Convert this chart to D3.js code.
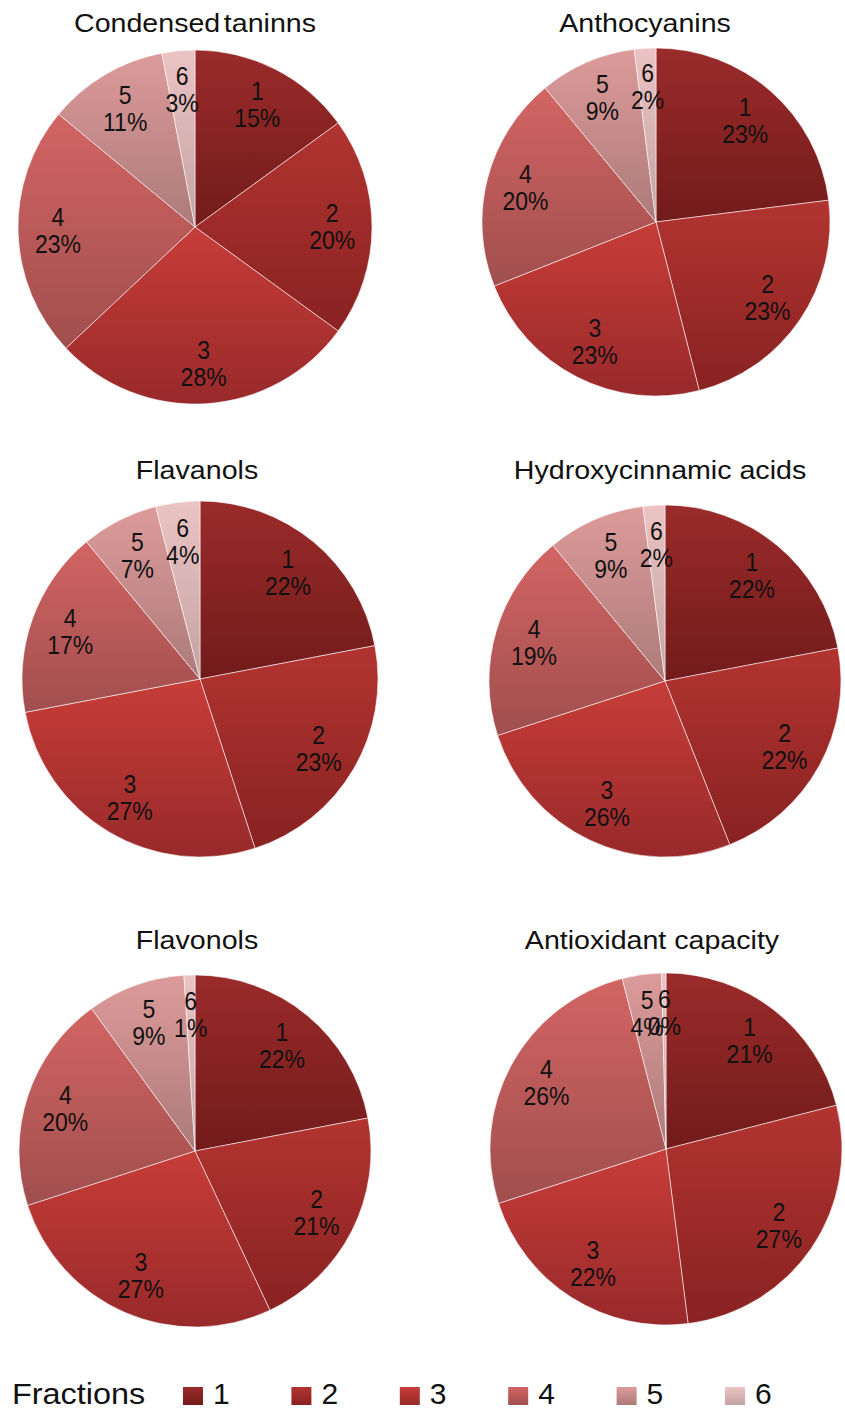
<!DOCTYPE html>
<html>
<head>
<meta charset="utf-8">
<script src="https://cdn.jsdelivr.net/npm/d3@7"></script>
<style>
  html, body { margin: 0; padding: 0; background: #fff; }
  svg { display: block; font-family: "Liberation Sans", Arial, sans-serif; }
</style>
</head>
<body>
<svg id="chart" width="845" height="1412"></svg>
<script>
// Fractions 1..6
const fractions = ["1", "2", "3", "4", "5", "6"];

// Share (%) of each fraction per compound group
const condensedTannins   = [15, 20, 28, 23, 11, 3];
const anthocyanins       = [23, 23, 23, 20, 9, 2];
const flavanols          = [22, 23, 27, 17, 7, 4];
const hydroxycinnamic    = [22, 22, 26, 19, 9, 2];
const flavonols          = [22, 21, 27, 20, 9, 1];
const antioxidantCap     = [21, 27, 22, 26, 3.6, 0.4];

const titles = ["Condensed taninns", "Anthocyanins", "Flavanols",
                "Hydroxycinnamic acids", "Flavonols", "Antioxidant capacity"];
const seriesList = [condensedTannins, anthocyanins, flavanols,
                    hydroxycinnamic, flavonols, antioxidantCap];

// Panel geometry
const panels = [
  { cx: 195, cy: 227, r: 177, tx: 195, ty: 32 },
  { cx: 656, cy: 222, r: 174, tx: 645, ty: 32 },
  { cx: 200, cy: 679, r: 178, tx: 197, ty: 479 },
  { cx: 665, cy: 681, r: 176, tx: 660, ty: 479 },
  { cx: 195, cy: 1151, r: 176, tx: 197, ty: 949 },
  { cx: 666, cy: 1149, r: 176, tx: 652, ty: 949 }
];

// Vertical gradient stops (top, bottom) per fraction
const gradTop    = ["#9a2b2a", "#b23431", "#c73d39", "#d26563", "#dc9b9a", "#ebc3c3"];
const gradBottom = ["#721b1b", "#882221", "#98292a", "#a04e4e", "#ad7a7a", "#c4a3a3"];

const svg = d3.select("#chart");
const defs = svg.append("defs");

fractions.forEach((f, i) => {
  const g = defs.append("linearGradient")
    .attr("id", "grad" + i)
    .attr("x1", 0).attr("y1", 0).attr("x2", 0).attr("y2", 1);
  g.append("stop").attr("offset", "0%").attr("stop-color", gradTop[i]);
  g.append("stop").attr("offset", "100%").attr("stop-color", gradBottom[i]);
});

const color = d3.scaleOrdinal().domain(fractions).range(fractions.map((f, i) => `url(#grad${i})`));

const pie = d3.pie().sort(null).value(d => d.value);

seriesList.forEach((vals, k) => {
  const p = panels[k];
  const data = fractions.map((f, i) => ({ fraction: f, value: vals[i] }));
  const total = d3.sum(vals);
  const arcs = pie(data);
  const arc = d3.arc().innerRadius(0).outerRadius(p.r);
  const labelArc = d3.arc().innerRadius(p.r * 0.775).outerRadius(p.r * 0.775);

  svg.append("text")
    .attr("transform", `translate(${p.tx},${p.ty}) scale(1.1,1)`)
    .attr("text-anchor", "middle")
    .attr("font-size", 26)
    .attr("fill", "#111")
    .attr("word-spacing", k === 0 ? -4 : 0)
    .text(titles[k]);

  const g = svg.append("g").attr("transform", `translate(${p.cx},${p.cy})`);

  g.selectAll("path.slice")
    .data(arcs)
    .join("path")
    .attr("class", "slice")
    .attr("d", arc)
    .attr("fill", d => color(d.data.fraction))
    .attr("stroke", "rgba(255,255,255,0.55)")
    .attr("stroke-width", 1);

  const labels = g.selectAll("text.lbl")
    .data(arcs)
    .join("text")
    .attr("class", "lbl")
    .attr("transform", d => `translate(${labelArc.centroid(d)}) scale(0.92,1)`)
    .attr("text-anchor", "middle")
    .attr("font-size", 25)
    .attr("fill", "#111");
  labels.append("tspan").attr("x", 0).attr("dy", "-0.2em").text(d => d.data.fraction);
  labels.append("tspan").attr("x", 0).attr("dy", "1.08em")
    .text(d => Math.round(d.data.value / total * 100) + "%");
});

// Legend
const legend = svg.append("g").attr("class", "legend");
legend.append("text")
  .attr("transform", "translate(12,1404) scale(1.08,1)")
  .attr("font-size", 30)
  .attr("fill", "#111")
  .text("Fractions");

const legendX = d3.scalePoint().domain(fractions).range([183, 725]);
const items = legend.selectAll("g.item")
  .data(fractions)
  .join("g")
  .attr("class", "item")
  .attr("transform", f => `translate(${legendX(f)},1387)`);
items.append("rect")
  .attr("width", 20).attr("height", 18)
  .attr("fill", f => color(f));
items.append("text")
  .attr("x", 30).attr("y", 17)
  .attr("font-size", 30)
  .attr("fill", "#111")
  .text(f => f);
</script>
</body>
</html>
